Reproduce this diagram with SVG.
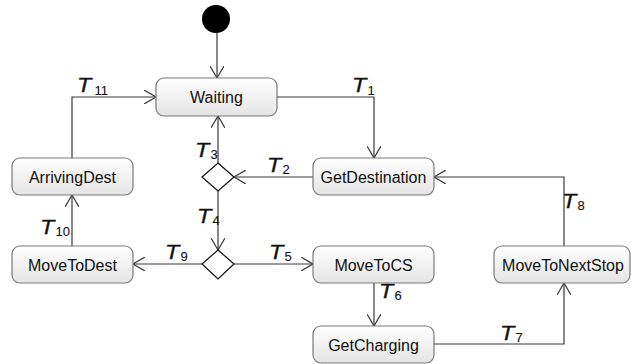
<svg xmlns="http://www.w3.org/2000/svg" width="631" height="364" viewBox="0 0 631 364">
<style>
.box{fill:url(#g);stroke:#7a7a7a;stroke-width:1.2}
.lbl{font-family:"Liberation Sans",Arial,sans-serif;font-size:16px;fill:#111;text-anchor:middle}
.t{font-family:"Liberation Sans",Arial,sans-serif;font-size:19.5px;font-style:italic;fill:#111;stroke:#111;stroke-width:0.3}
.s{font-family:"Liberation Sans",Arial,sans-serif;font-size:13px;fill:#111;stroke:#111;stroke-width:0.1}
.c{fill:none;stroke:#3a3a3a;stroke-width:1.2;marker-end:url(#a)}
.d{fill:#fff;stroke:#111;stroke-width:1.2}
</style>
<defs>
<linearGradient id="g" x1="0" y1="0" x2="0" y2="1">
<stop offset="0" stop-color="#ffffff"/>
<stop offset="1" stop-color="#e4e4e4"/>
</linearGradient>
<marker id="a" markerUnits="userSpaceOnUse" viewBox="0 0 12 14" refX="12" refY="7" markerWidth="12" markerHeight="14" orient="auto">
<path d="M0,0 L12,7 L0,14" fill="none" stroke="#3a3a3a" stroke-width="1.2"/>
</marker>
</defs>
<g id="connectors">
<path class="c" d="M217,33 V78"/>
<path class="c" d="M277,97 H374 V158"/>
<path class="c" d="M72,158 V97 H156"/>
<path class="c" d="M218,163 V116"/>
<path class="c" d="M313,177 H234"/>
<path class="c" d="M218,191 V250"/>
<path class="c" d="M202,264 H133"/>
<path class="c" d="M234,264 H313"/>
<path class="c" d="M72,246 V195"/>
<path class="c" d="M374,283 V326"/>
<path class="c" d="M434,344 H564 V283"/>
<path class="c" d="M564,246 V177 H434"/>
</g>
<g id="labels">
<text class="t" transform="translate(352,91.5) scale(1.2,1)">T</text><text class="s" x="367.5" y="95">1</text>
<text class="t" transform="translate(267,171.5) scale(1.2,1)">T</text><text class="s" x="282.5" y="174">2</text>
<text class="t" transform="translate(195,156.5) scale(1.2,1)">T</text><text class="s" x="210.5" y="159">3</text>
<text class="t" transform="translate(197,222.5) scale(1.2,1)">T</text><text class="s" x="212.5" y="225">4</text>
<text class="t" transform="translate(269,258.5) scale(1.2,1)">T</text><text class="s" x="284.5" y="261">5</text>
<text class="t" transform="translate(379,297.5) scale(1.2,1)">T</text><text class="s" x="394.5" y="300">6</text>
<text class="t" transform="translate(500,339.5) scale(1.2,1)">T</text><text class="s" x="515.5" y="342">7</text>
<text class="t" transform="translate(562,207.5) scale(1.2,1)">T</text><text class="s" x="577.5" y="210">8</text>
<text class="t" transform="translate(165,258.5) scale(1.2,1)">T</text><text class="s" x="180.5" y="261">9</text>
<text class="t" transform="translate(40,233.5) scale(1.2,1)">T</text><text class="s" x="55.5" y="236">10</text>
<text class="t" transform="translate(77,91.5) scale(1.2,1)">T</text><text class="s" x="94.5" y="95">11</text>
</g>
<g id="init"><circle cx="216" cy="19" r="14" fill="#000"/></g>
<g id="Waiting"><rect class="box" x="156" y="78" width="121" height="38" rx="8"/><text class="lbl" x="216.5" y="103">Waiting</text></g>
<g id="GetDestination"><rect class="box" x="313" y="158" width="121" height="37" rx="8"/><text class="lbl" x="373.5" y="182.5">GetDestination</text></g>
<g id="ArrivingDest"><rect class="box" x="12" y="158" width="121" height="37" rx="8"/><text class="lbl" x="72.5" y="182.5">ArrivingDest</text></g>
<g id="MoveToDest"><rect class="box" x="12" y="246" width="121" height="37" rx="8"/><text class="lbl" x="72.5" y="270.5">MoveToDest</text></g>
<g id="MoveToCS"><rect class="box" x="313" y="246" width="121" height="37" rx="8"/><text class="lbl" x="373.5" y="270.5">MoveToCS</text></g>
<g id="GetCharging"><rect class="box" x="313" y="326" width="121" height="37" rx="8"/><text class="lbl" x="373.5" y="350.5">GetCharging</text></g>
<g id="MoveToNextStop"><rect class="box" x="494" y="246" width="136" height="37" rx="8"/><text class="lbl" x="563" y="270.5">MoveToNextStop</text></g>
<g id="decision1"><path class="d" d="M218,163 L234,177 L218,191 L202,177 Z"/></g>
<g id="decision2"><path class="d" d="M218,250 L234,264 L218,279 L202,264 Z"/></g>
</svg>
